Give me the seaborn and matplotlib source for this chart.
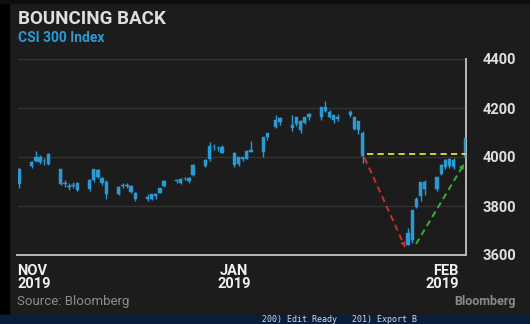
import matplotlib
matplotlib.use("Agg")
import matplotlib.pyplot as plt
import matplotlib.dates as mdates
import seaborn as sns
import pandas as pd
import numpy as np

# ---- data (CSI 300, daily OHLC) ----
dates = ["2019-11-01","2019-11-04","2019-11-05","2019-11-06","2019-11-07","2019-11-08",
         "2019-11-11","2019-11-12","2019-11-13","2019-11-14","2019-11-15",
         "2019-11-18","2019-11-19","2019-11-20","2019-11-21","2019-11-22",
         "2019-11-25","2019-11-26","2019-11-27","2019-11-28","2019-11-29",
         "2019-12-02","2019-12-03","2019-12-04","2019-12-05","2019-12-06",
         "2019-12-09","2019-12-10","2019-12-11","2019-12-12","2019-12-13",
         "2019-12-16","2019-12-17","2019-12-18","2019-12-19","2019-12-20",
         "2019-12-23","2019-12-24","2019-12-25","2019-12-26","2019-12-27",
         "2019-12-30","2019-12-31","2020-01-02","2020-01-03",
         "2020-01-06","2020-01-07","2020-01-08","2020-01-09","2020-01-10",
         "2020-01-13","2020-01-14","2020-01-15","2020-01-16","2020-01-17",
         "2020-01-20","2020-01-21","2020-01-22","2020-01-23",
         "2020-02-03","2020-02-04","2020-02-05","2020-02-06","2020-02-07",
         "2020-02-10","2020-02-11","2020-02-12","2020-02-13","2020-02-14",
         "2020-02-17"]
opens = [3890,3962,3985,3998,3982,4012,3950,3895,3880,3882,3895,3868,3905,3945,3915,3898,
         3850,3880,3887,3880,3855,3828,3830,3840,3855,3880,3905,3895,3914,3915,3925,
         3965,3990,4040,4038,4040,4015,3970,3998,3992,4030,4020,4082,4121,4160,
         4120,4135,4146,4140,4175,4165,4205,4185,4170,4165,4170,4163,4110,4100,
         3640,3660,3795,3840,3870,3870,3930,3960,3990,3960,4000]
highs = [3955,3985,4025,4008,3995,4015,3952,3905,3892,3898,3900,3912,3952,3952,3920,3905,
         3880,3895,3892,3885,3858,3848,3850,3852,3875,3905,3912,3915,3920,3918,3970,
         3990,4060,4055,4045,4048,4020,4000,4002,4028,4065,4082,4098,4172,4165,
         4170,4163,4150,4165,4180,4205,4227,4190,4172,4175,4190,4165,4148,4105,
         3710,3785,3835,3900,3905,3920,3970,3990,3995,3995,4080]
lows  = [3872,3955,3978,3970,3968,3968,3885,3878,3866,3872,3862,3860,3900,3915,3885,3830,
         3845,3875,3872,3852,3822,3820,3825,3830,3852,3878,3895,3890,3905,3895,3922,
         3960,3985,4030,4025,4015,3960,3965,3985,3990,4020,4000,4070,4118,4131,
         4105,4128,4100,4135,4150,4150,4185,4158,4140,4145,4165,4110,4095,3975,
         3640,3650,3790,3820,3845,3860,3925,3950,3955,3950,3995]
closes = [3952,3978,4000,3979,3984,3973,3891,3889,3877,3887,3867,3907,3949,3920,3895,3849,
          3877,3887,3882,3858,3829,3836,3848,3849,3872,3902,3902,3911,3914,3902,3968,
          3987,4045,4039,4035,4017,3967,3999,3991,4025,4022,4081,4097,4152,4144,
          4130,4163,4112,4164,4164,4204,4189,4164,4149,4154,4185,4115,4145,4003,
          3688,3785,3828,3899,3899,3917,3969,3988,3962,3987,4077]

y_ticks = [3600, 3800, 4000, 4200, 4400]
x_tick_labels = ["NOV\n2019", "JAN\n2019", "FEB\n2019"]

# annotations: (date, value)
prior_level = 4012
yellow_span = ("2020-01-24", "2020-02-17")
red_arrow = (("2020-01-23 12:00", 3996), ("2020-02-02 06:00", 3633))
green_arrow = (("2020-02-04 22:00", 3645), ("2020-02-16 12:00", 3971))

# ---- styling ----
BG = "#1c1c1c"
BLUE = "#2a9ad4"
sns.set_theme(style="dark", rc={"axes.facecolor": BG, "figure.facecolor": BG})
plt.rcParams["font.family"] = ["Roboto", "DejaVu Sans"]

df = pd.DataFrame({"date": pd.to_datetime(dates), "open": opens, "high": highs,
                   "low": lows, "close": closes})
df["x"] = mdates.date2num(df["date"])
df["lo_body"] = df[["open", "close"]].min(axis=1)
df["hi_body"] = df[["open", "close"]].max(axis=1)

fig = plt.figure(figsize=(5.3, 3.24), dpi=100)
ax = fig.add_axes([17.5 / 530, 1 - 255 / 324, (466 - 17.5) / 530, (255 - 59) / 324])
ax.set_facecolor(BG)

# grid
for v in y_ticks:
    ax.axhline(v, color="#333333", lw=1.0, zorder=0)

# candles
ax.vlines(df["x"], df["low"], df["high"], color=BLUE, lw=1.0, zorder=3)
ax.bar(df["x"], df["hi_body"] - df["lo_body"], bottom=df["lo_body"], width=0.8,
       color=BLUE, edgecolor=BLUE, linewidth=0.3, zorder=3)

# annotations
ys = mdates.date2num(pd.to_datetime(list(yellow_span)))
ax.plot(ys, [prior_level, prior_level], color="#d6d42c", lw=1.4, ls=(0, (3.2, 2.2)), zorder=4)

def dashed_arrow(seg, color):
    (d0, v0), (d1, v1) = seg
    x0, x1 = mdates.date2num(pd.to_datetime([d0, d1]))
    ax.plot([x0, x1], [v0, v1], color=color, lw=1.4, ls=(0, (3.2, 2.2)), zorder=4)
    ax.annotate("", xy=(x1, v1), xytext=(x0 + (x1 - x0) * 0.9, v0 + (v1 - v0) * 0.9),
                arrowprops=dict(arrowstyle="-|>", color=color, lw=0.1,
                                mutation_scale=9, shrinkA=0, shrinkB=0), zorder=5)

dashed_arrow(red_arrow, "#c8302a")
dashed_arrow(green_arrow, "#33b533")

# axes limits & spines
x_left = mdates.date2num(pd.Timestamp("2019-11-01")) - 0.45
x_right = mdates.date2num(pd.Timestamp("2020-02-17"))
ax.set_xlim(x_left, x_right)
ax.set_ylim(3600, 4400)
for s in ["top", "left"]:
    ax.spines[s].set_visible(False)
for s in ["right", "bottom"]:
    ax.spines[s].set_visible(True)
    ax.spines[s].set_color("#b8b8b8")
    ax.spines[s].set_linewidth(1.4)
ax.spines["right"].set_zorder(2)

ax.yaxis.tick_right()
ax.set_yticks(y_ticks)
ax.set_yticklabels([str(v) for v in y_ticks], fontsize=10.5, color="#e0e0e0",
                   fontweight="bold")
ax.tick_params(axis="y", length=0, pad=12)
ax.set_xticks([])
ax.grid(False)

# x labels placed along the axis
tick_pos = [x_left, mdates.date2num(pd.Timestamp("2019-12-23")), x_right - 1.7]
aligns = ["left", "center", "right"]
for pos, lab, ha in zip(tick_pos, x_tick_labels, aligns):
    ax.text(pos, -0.045, lab, transform=ax.get_xaxis_transform(), ha=ha, va="top",
            fontsize=10.5, fontweight="bold", color="#f0f0f0", linespacing=0.95)

# titles & footer
fig.text(18 / 530, 1 - 9.5 / 324, "BOUNCING BACK", fontsize=13.5, fontweight="bold",
         color="#dedede", va="top", ha="left")
fig.text(18 / 530, 1 - 31 / 324, "CSI 300 Index", fontsize=10, fontweight="bold",
         color="#2a9ad4", va="top", ha="left")
fig.text(17 / 530, 1 - 302 / 324, "Source: Bloomberg", fontsize=9.5, color="#8c8c8c",
         va="center", ha="left")
fig.text(516 / 530, 1 - 302 / 324, "Bloomberg", fontsize=9, fontweight="bold",
         color="#8a8a8a", va="center", ha="right")

# frame artifacts: left black strip, top dark band and bottom terminal bar
fig.patches.append(plt.Rectangle((0, 0), 9 / 530, 1, transform=fig.transFigure,
                                 color="black", zorder=10))
fig.patches.append(plt.Rectangle((0, 1 - 3 / 324), 1, 3 / 324, transform=fig.transFigure,
                                 color="#0e0e0e", zorder=10))
fig.patches.append(plt.Rectangle((0, 0), 1, 9 / 324, transform=fig.transFigure,
                                 color="#0b1d3d", zorder=10))
fig.text(262 / 530, 4.5 / 324, "200) Edit Ready   201) Export B", fontsize=6,
         family="DejaVu Sans Mono", color="#d8d8d8", va="center", ha="left", zorder=11)

fig.savefig("out.png", dpi=100, facecolor=BG)
